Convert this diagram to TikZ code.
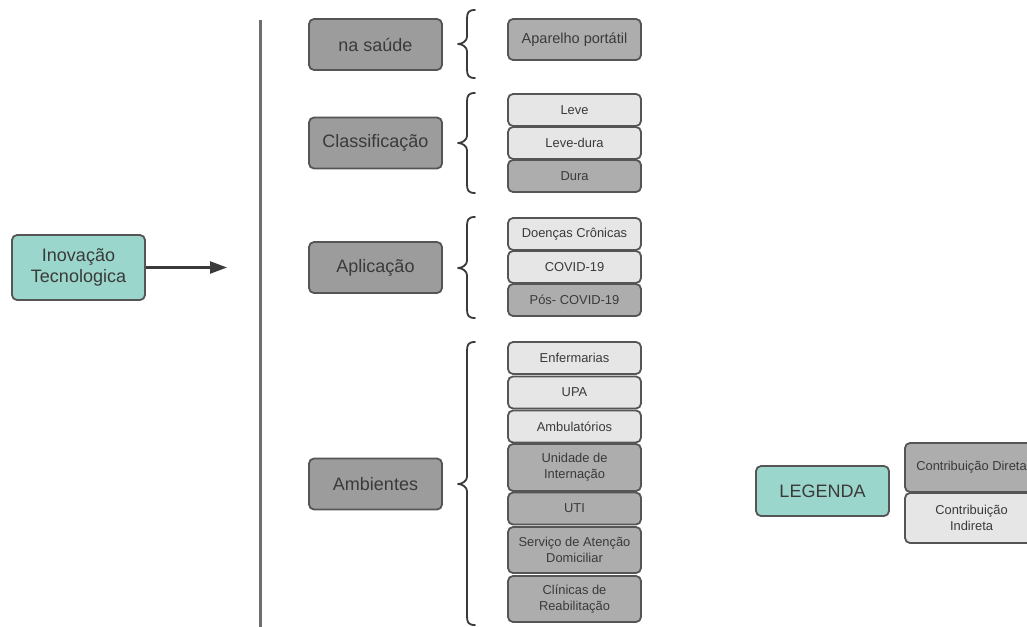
\documentclass[tikz,border=0pt]{standalone}
\usepackage{fontspec}
\setmainfont{Liberation Sans}
\usetikzlibrary{arrows.meta}
\definecolor{tealfill}{HTML}{9AD6CB}
\definecolor{catfill}{HTML}{9C9C9C}
\definecolor{darkfill}{HTML}{ADADAD}
\definecolor{lightfill}{HTML}{E6E6E6}
\definecolor{edge}{HTML}{555555}
\definecolor{ink}{HTML}{3A3A3A}
\tikzset{
  box/.style={draw=edge, line width=1.8pt, rounded corners=5pt, minimum width=133pt,
    inner sep=0pt, align=center, text=ink},
  bigbox/.style={box, minimum height=51pt, font=\fontsize{18}{21}\selectfont},
  smallbox/.style={box, minimum height=32pt, font=\fontsize{12.9}{16}\selectfont},
  teal/.style={fill=tealfill},
  cat/.style={fill=catfill},
  dark/.style={fill=darkfill},
  light/.style={fill=lightfill},
  bracepath/.style={draw=ink, line width=1.8pt, line cap=round, line join=round},
}
% brace opening to the right: top y, middle y, bottom y
\newcommand{\drawbrace}[3]{%
  \draw[bracepath] (475,#1) .. controls (468,#1) and (467,#1+3) .. (467,#1+9)
    -- (467,#2-7) .. controls (467,#2-3) and (462,#2) .. (458,#2)
    .. controls (462,#2) and (467,#2+3) .. (467,#2+7)
    -- (467,#3-9) .. controls (467,#3-3) and (468,#3) .. (475,#3);}
\begin{document}
\begin{tikzpicture}[x=1pt, y=-1pt]
\useasboundingbox (0,0) rectangle (1027,626);

% root and arrow
\node[bigbox, teal, minimum height=65pt] (root) at (78.5,267.5) {Inovação\\Tecnologica};
\coordinate (arrowend) at (227,267.5);
\draw[-{Triangle[length=17pt,width=12pt]}, draw=ink, fill=ink, line width=2.4pt] (root.east) -- (arrowend);

% spine
\coordinate (spinetop) at (260,20);
\coordinate (spinebot) at (260,630);
\draw[draw=edge!85, line width=3pt] (spinetop) -- (spinebot);

% categories
\node[bigbox, cat] (saude) at (375.5,44.5) {na saúde};
\node[bigbox, cat] (classif) at (375.5,143) {Classificação};
\node[bigbox, cat] (aplic) at (375.5,267.5) {Aplicação};
\node[bigbox, cat] (amb) at (375.5,484) {Ambientes};

% braces
\drawbrace{10}{44}{78}
\drawbrace{93}{143}{193}
\drawbrace{217}{268}{318}
\drawbrace{342}{484}{625}

% items
\node[smallbox, dark, minimum height=41pt, font=\fontsize{14.5}{17}\selectfont] (aparelho) at (574.5,39.5) {Aparelho portátil};

\node[smallbox, light] (leve) at (574.5,110) {Leve};
\node[smallbox, light] (levedura) at (574.5,143) {Leve-dura};
\node[smallbox, dark] (dura) at (574.5,176) {Dura};

\node[smallbox, light] (doencas) at (574.5,234) {Doenças Crônicas};
\node[smallbox, light] (covid) at (574.5,267) {COVID-19};
\node[smallbox, dark] (poscovid) at (574.5,300) {Pós- COVID-19};

\node[smallbox, light] (enferm) at (574.5,358) {Enfermarias};
\node[smallbox, light] (upa) at (574.5,392.5) {UPA};
\node[smallbox, light] (ambul) at (574.5,426.5) {Ambulatórios};
\node[smallbox, dark, minimum height=47pt] (intern) at (574.5,467.5) {Unidade de\\Internação};
\node[smallbox, dark] (uti) at (574.5,508.5) {UTI};
\node[smallbox, dark, minimum height=46pt] (domic) at (574.5,550) {Serviço de Atenção\\Domiciliar};
\node[smallbox, dark, minimum height=46pt] (reab) at (574.5,599) {Clínicas de\\Reabilitação};

% legend
\node[bigbox, teal, minimum height=50pt] (legenda) at (822.5,491) {LEGENDA};
\node[smallbox, dark, minimum height=49pt] (direta) at (971.5,467.5) {Contribuição Direta};
\node[smallbox, light, minimum height=50pt] (indireta) at (971.5,518) {Contribuição\\Indireta};
\end{tikzpicture}
\end{document}
